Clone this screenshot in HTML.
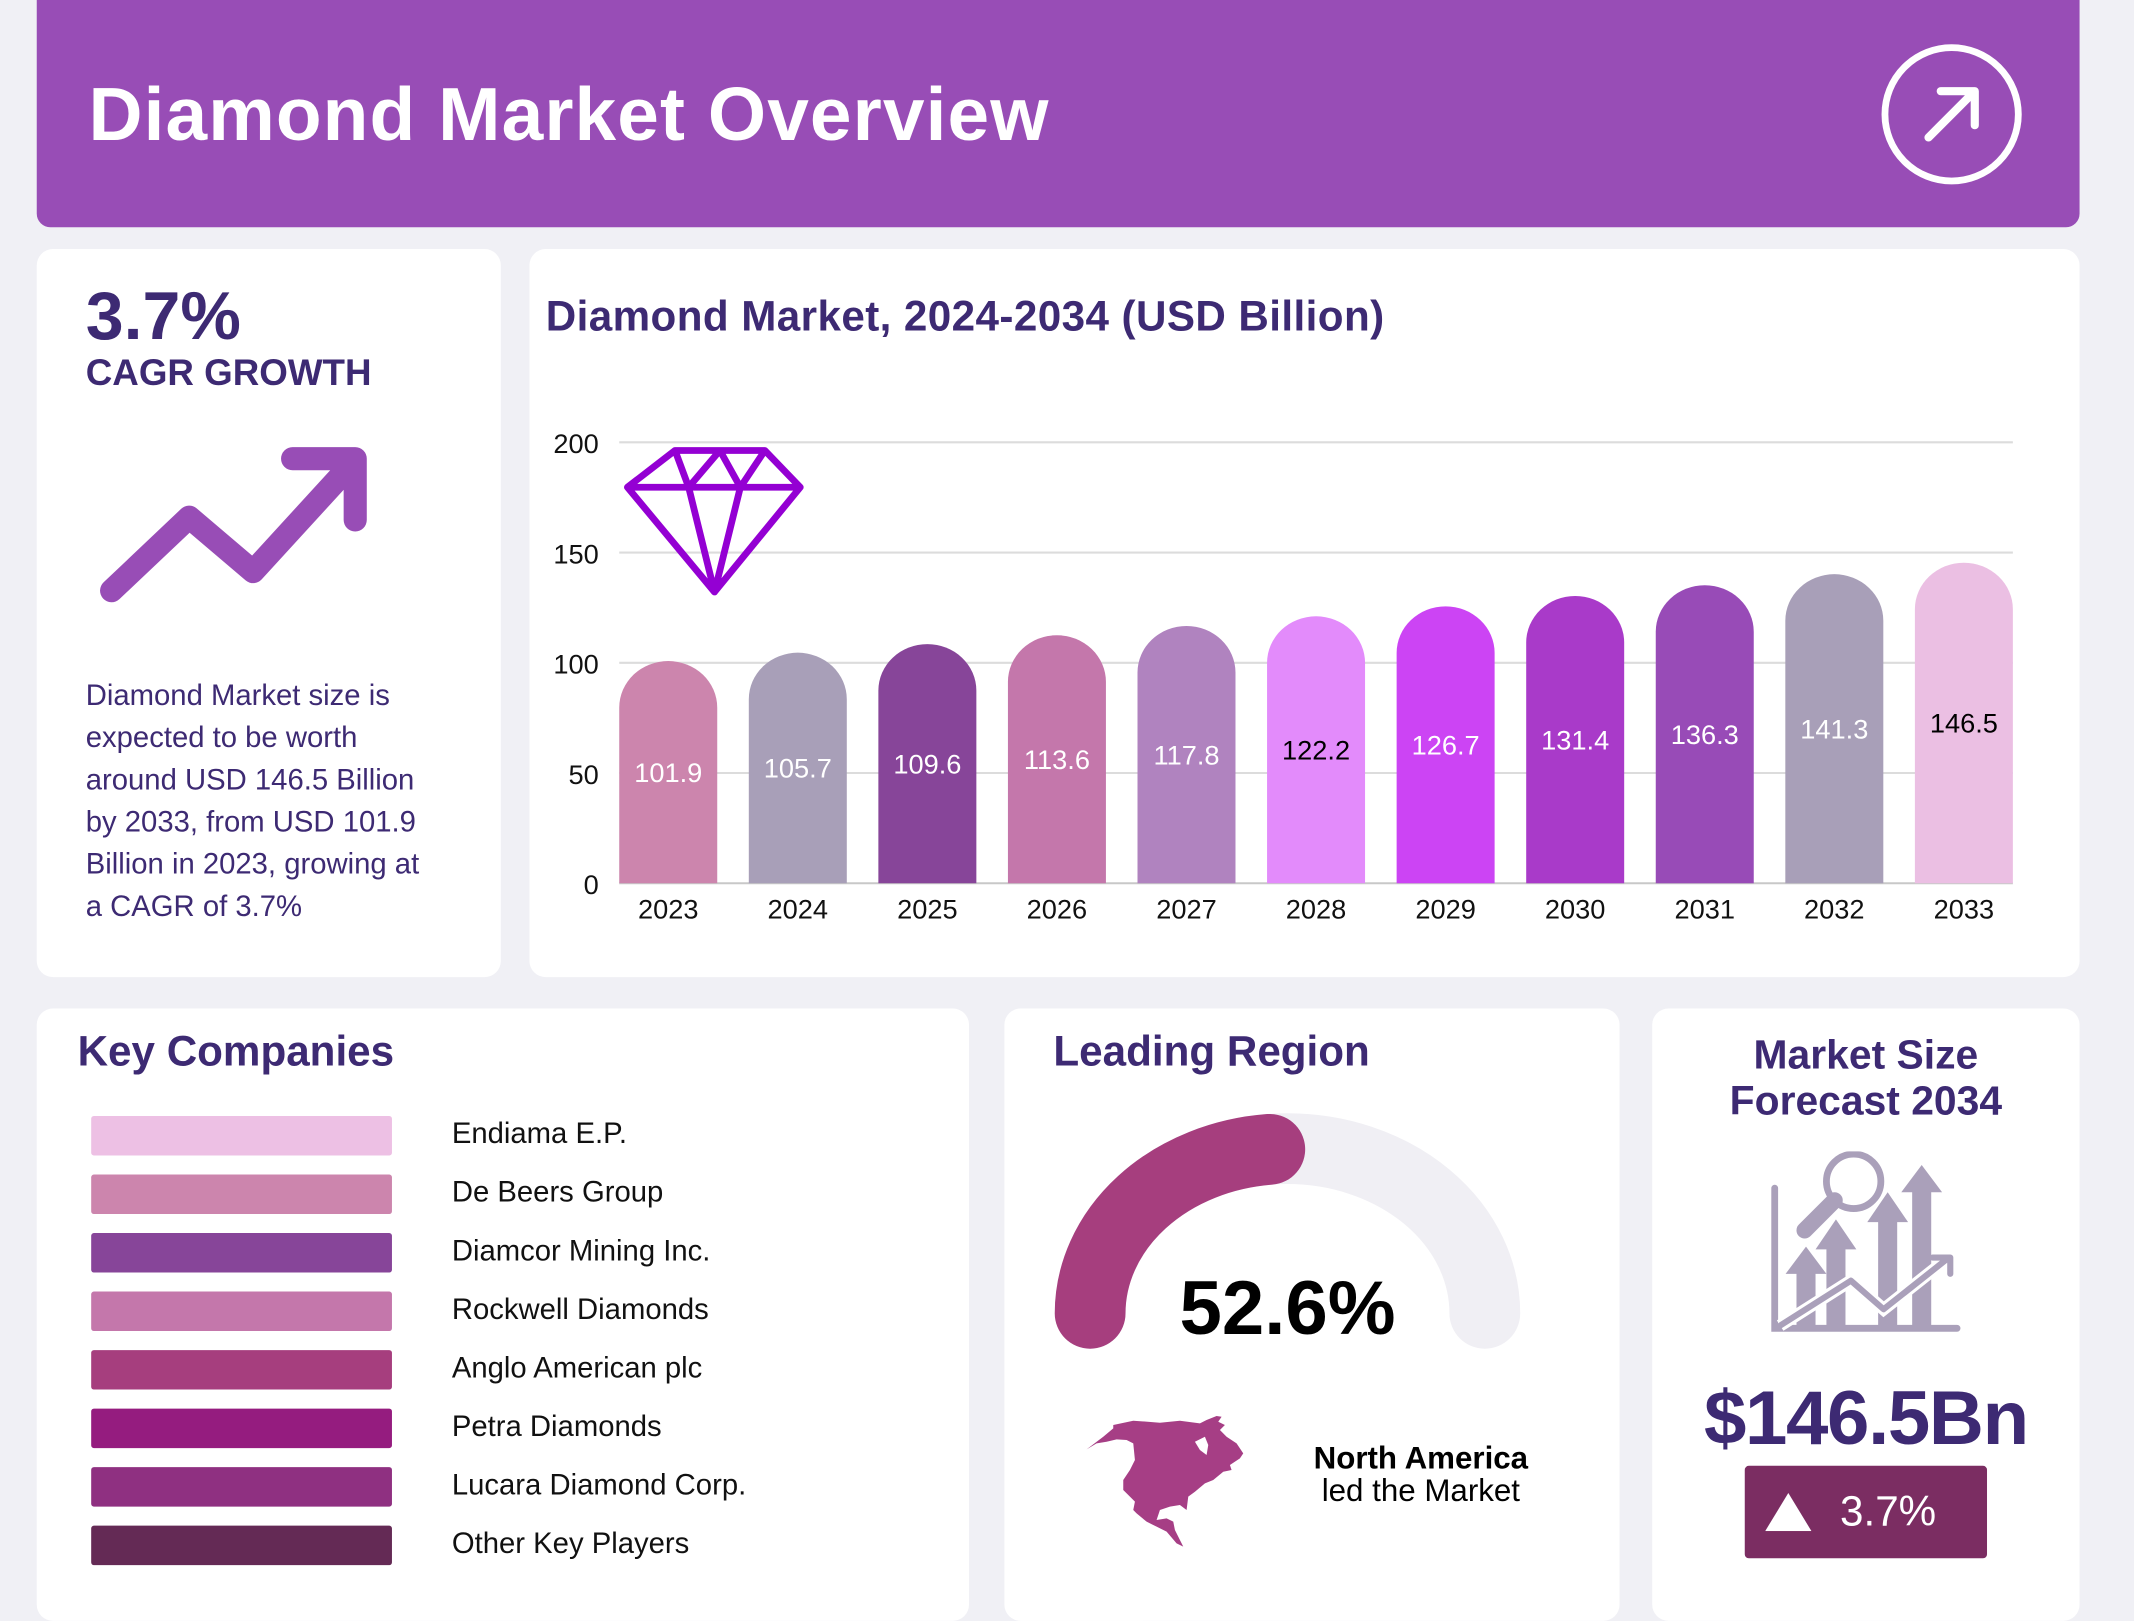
<!DOCTYPE html>
<html><head><meta charset="utf-8">
<style>
html,body{margin:0;padding:0;width:2134px;height:1600px;overflow:hidden;background:#f0f0f5;}
#wrap{position:absolute;left:0;top:0;width:1568px;height:1176px;transform:scale(1.36097);transform-origin:0 0;font-family:"Liberation Sans",sans-serif;color:#3d2a73;}
.card{position:absolute;background:#fff;border-radius:12px;}
.t{position:absolute;white-space:nowrap;}
</style></head><body>
<div id="wrap">
  <div style="position:absolute;left:27px;top:0;width:1501px;height:167px;background:#984db6;border-radius:0 0 10px 10px;">
    <div class="t" style="left:38px;top:52px;font-size:55px;font-weight:bold;color:#fff;letter-spacing:0.8px;">Diamond Market Overview</div>
    <svg style="position:absolute;left:1354px;top:31px;" width="106" height="106"><circle cx="53" cy="53" r="49" fill="none" stroke="#fff" stroke-width="5"/><path d="M36 70 L69 37 M45 36 H70 V61" fill="none" stroke="#fff" stroke-width="6" stroke-linecap="round" stroke-linejoin="round"/></svg>
  </div>

  <div class="card" style="left:27px;top:183px;width:341px;height:535px;">
    <div class="t" style="left:36px;top:20px;font-size:50px;font-weight:bold;">3.7%</div>
    <div class="t" style="left:36px;top:76px;font-size:27px;font-weight:bold;">CAGR GROWTH</div>
    <svg style="position:absolute;left:0;top:0;" width="341" height="300"><path d="M55 251 L112 197 L159 237 L234 155 M188 154 H234 V199" fill="none" stroke="#984db6" stroke-width="17" stroke-linecap="round" stroke-linejoin="round"/></svg>
    <div style="position:absolute;left:36px;top:313px;width:300px;font-size:21.5px;line-height:31px;white-space:nowrap;">Diamond Market size is<br>expected to be worth<br>around USD 146.5 Billion<br>by 2033, from USD 101.9<br>Billion in 2023, growing at<br>a CAGR of 3.7%</div>
  </div>

  <div class="card" style="left:389px;top:183px;width:1139px;height:535px;">
    <div class="t" style="left:12px;top:32px;font-size:31px;font-weight:bold;letter-spacing:0.3px;">Diamond Market, 2024-2034 (USD Billion)</div>
  </div>
  <svg id="chart" style="position:absolute;left:0;top:0;" width="1568" height="760"></svg>

  <div class="card" style="left:27px;top:741px;width:685px;height:450px;">
    <div class="t" style="left:30px;top:14px;font-size:31px;font-weight:bold;">Key Companies</div>
    <div id="companies"></div>
  </div>

  <div class="card" style="left:738px;top:741px;width:452px;height:450px;">
    <div class="t" style="left:36px;top:14px;font-size:31px;font-weight:bold;">Leading Region</div>
  </div>
  <svg style="position:absolute;left:0;top:0;" width="1568" height="1176">
    <path d="M801 965 A145 121 0 0 1 1091 965" fill="none" stroke="#f0eff4" stroke-width="52" stroke-linecap="round"/>
    <path d="M801 965 A145 121 0 0 1 933 844.5" fill="none" stroke="#a63e7e" stroke-width="52" stroke-linecap="round"/>
    <text x="946" y="980" text-anchor="middle" font-family="Liberation Sans, sans-serif" font-weight="bold" font-size="56" fill="#000">52.6%</text>
    <g transform="translate(793.5,1028.7) scale(0.2449)">
      <path d="M20 148 L70 110 L100 85 L100 75 L160 62 L240 68 L300 62 L360 70 L380 60 L410 48 L425 50 L415 65 L435 75 L420 90 L440 110 L470 130 L490 160 L480 175 L450 195 L455 210 L430 215 L400 240 L375 250 L345 275 L325 290 L320 330 L300 315 L270 320 L240 330 L230 360 L260 355 L280 365 L285 390 L300 420 L310 440 L290 430 L260 395 L230 380 L200 365 L170 340 L160 330 L165 305 L150 290 L130 270 L130 240 L150 210 L165 180 L160 130 L140 120 L110 118 L80 125 L50 130 Z" fill="#a63e85"/>
      <path d="M345 125 L375 110 L385 135 L380 165 L360 150 Z" fill="#fff"/>
    </g>
    <text x="1044" y="1079" text-anchor="middle" font-family="Liberation Sans, sans-serif" font-weight="bold" font-size="23" fill="#000">North America</text>
    <text x="1044" y="1103" text-anchor="middle" font-family="Liberation Sans, sans-serif" font-size="23" fill="#000">led the Market</text>
  </svg>

  <div class="card" style="left:1214px;top:741px;width:314px;height:450px;">
    <div style="position:absolute;left:0;top:18px;width:314px;text-align:center;font-size:30px;font-weight:bold;line-height:34px;">Market Size<br>Forecast 2034</div>
    <svg style="position:absolute;left:86px;top:105px;" width="145" height="135">
      <g fill="#aaa0ba" stroke="#aaa0ba">
        <path d="M4 27 V130 H138" fill="none" stroke-width="5" stroke-linecap="round"/>
        <circle cx="62" cy="22" r="20" fill="none" stroke-width="5"/>
        <path d="M48 36 L26 58" stroke-width="12" stroke-linecap="round"/>
        <path d="M20 130 V90 H12 L27 70 L42 90 H34 V130Z M42 130 V72 H34 L49 50 L64 72 H56 V130Z M80 130 V52 H72 L87 30 L102 52 H94 V130Z M105 130 V30 H97 L112 10 L127 30 H119 V130Z" stroke="none"/>
        <path d="M8 128 L60 95 L84 116 L132 78" fill="none" stroke="#fff" stroke-width="9"/>
        <path d="M8 128 L60 95 L84 116 L132 78 M120 78 H133 V90" fill="none" stroke-width="4.5" stroke-linecap="round" stroke-linejoin="round"/>
      </g>
    </svg>
    <div class="t" style="left:0;top:268px;width:314px;text-align:center;font-size:56px;font-weight:bold;letter-spacing:-1px;">$146.5Bn</div>
    <div style="position:absolute;left:68px;top:336px;width:178px;height:68px;background:#7b2d62;border-radius:3px;">
      <svg style="position:absolute;left:15px;top:20px;" width="38" height="28"><path d="M0 28 L17 0 L34 28Z" fill="#fff"/></svg>
      <div class="t" style="left:70px;top:16px;font-size:31px;color:#fff;">3.7%</div>
    </div>
  </div>
</div>
<script>
const years=["2023","2024","2025","2026","2027","2028","2029","2030","2031","2032","2033"];
const values=[101.9,105.7,109.6,113.6,117.8,122.2,126.7,131.4,136.3,141.3,146.5];
const barColors=["#cc85ad","#a89fb8","#874599","#c477ab","#b083bf","#e38bfb","#cc44f4","#a93ac9","#984bb7","#a89fb8","#ebbfe3"];
const labelColors=["#fff","#fff","#fff","#fff","#fff","#000","#fff","#fff","#fff","#fff","#000"];
const yTicks=[0,50,100,150,200];
const companies=["Endiama E.P.","De Beers Group","Diamcor Mining Inc.","Rockwell Diamonds","Anglo American plc","Petra Diamonds","Lucara Diamond Corp.","Other Key Players"];
const companyColors=["#edc0e4","#cc85ad","#874599","#c477ab","#a63e7e","#951c7f","#8f3081","#642a55"];

const NS="http://www.w3.org/2000/svg";
const svg=document.getElementById('chart');
const x0=455,x1=1479,yBase=649,yTop=325,maxV=200;
const step=(x1-x0-72)/(years.length-1),bw=72;
function y(v){return yBase-(v/maxV)*(yBase-yTop);}
function xb(i){return x0+i*step;}
function mk(tag,attrs){const e=document.createElementNS(NS,tag);for(const k in attrs)e.setAttribute(k,attrs[k]);svg.appendChild(e);return e;}
yTicks.forEach(t=>{
  const l=mk('line',{x1:x0,x2:x1,y1:y(t),y2:y(t),stroke:t===0?'#c8c8c8':'#dcdcdc','stroke-width':1.5});
  
  
  const tx=mk('text',{x:440,y:y(t)+8,'text-anchor':'end','font-family':'Liberation Sans, sans-serif','font-size':20,fill:'#111'});
  tx.textContent=t;
  
  
});
const d=mk('path',{d:'M496 331 H562 L588 358 L525 435 L461 358 Z M461 358 H588 M496 331 L506 358 L525 435 L544 358 L562 331 M529 331 L506 358 M529 331 L544 358',fill:'none',stroke:'#9400d3','stroke-width':5,'stroke-linejoin':'round'});


values.forEach((v,i)=>{
  const x=xb(i),top=y(v),r=bw/2;
  const p=mk('path',{d:`M${x} ${yBase} V${top+r} A${r} ${r*0.95} 0 0 1 ${x+bw} ${top+r} V${yBase} Z`,fill:barColors[i]});
  
  
  const lb=mk('text',{x:x+bw/2,y:(top+yBase)/2+8,'text-anchor':'middle','font-family':'Liberation Sans, sans-serif','font-size':20,fill:labelColors[i]});
  lb.textContent=v.toFixed(1);
  
  
  const xl=mk('text',{x:x+bw/2,y:675,'text-anchor':'middle','font-family':'Liberation Sans, sans-serif','font-size':20,fill:'#111'});
  xl.textContent=years[i];
  
  
});
const cont=document.getElementById('companies');
companies.forEach((c,i)=>{
  const top=79+i*43;
  const sw=document.createElement('div');
  
  
  sw.style.cssText=`position:absolute;left:40px;top:${top}px;width:221px;height:29px;background:${companyColors[i]};border-radius:2px;`;
  cont.appendChild(sw);
  const t=document.createElement('div');
  
  
  t.className='t';
  t.style.cssText=`left:305px;top:${top+1}px;font-size:21.5px;color:#111;`;
  t.textContent=c;
  cont.appendChild(t);
});
</script>
</body></html>
